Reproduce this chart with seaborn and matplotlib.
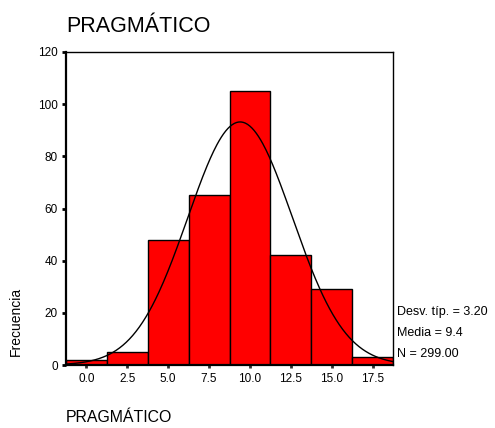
import numpy as np
import pandas as pd
import seaborn as sns
import matplotlib
matplotlib.use("Agg")
import matplotlib.pyplot as plt

# bin centres and counts
bin_centres = [0.0, 2.5, 5.0, 7.5, 10.0, 12.5, 15.0, 17.5]
counts = [2, 5, 48, 65, 105, 42, 29, 3]
x_ticks = [0.0, 2.5, 5.0, 7.5, 10.0, 12.5, 15.0, 17.5]
y_ticks = [0, 20, 40, 60, 80, 100, 120]

# summary stats printed on the chart
std_dev = 3.20
mean = 9.4
n_total = 299.00
bin_width = 2.5

sns.set_theme(style="white")
plt.rcParams['font.family'] = ['Liberation Sans', 'DejaVu Sans']
plt.rcParams['text.color'] = 'black'
plt.rcParams['xtick.color'] = 'black'
plt.rcParams['ytick.color'] = 'black'

df = pd.DataFrame({"PRAGMATICO": bin_centres, "n": counts})

fig = plt.figure(figsize=(4.95, 4.28), dpi=100)
ax = fig.add_axes([66 / 495, 1 - 365 / 428, 327 / 495, 313 / 428])

sns.histplot(data=df, x="PRAGMATICO", weights="n", binwidth=bin_width,
             binrange=(-1.25, 18.75), color="#ff0000", edgecolor="black",
             linewidth=1.0, alpha=1.0, ax=ax)

# fitted normal curve from the printed mean / sd
xs = np.linspace(-1.25, 18.75, 300)
ys = n_total * bin_width / (std_dev * np.sqrt(2 * np.pi)) * np.exp(-0.5 * ((xs - mean) / std_dev) ** 2)
sns.lineplot(x=xs, y=ys, color="black", linewidth=1.0, ax=ax)

ax.set_xlim(-1.25, 18.75)
ax.set_ylim(0, 120)
ax.set_xticks(x_ticks)
ax.set_xticklabels([f"{v:.1f}" for v in x_ticks], fontsize=8.5)
ax.set_yticks(y_ticks)
ax.set_yticklabels([str(v) for v in y_ticks], fontsize=8.5)
ax.tick_params(axis="y", left=True, length=3, width=2, pad=3)
ax.tick_params(axis="x", bottom=True, length=2, width=2, color="#333333", pad=4)
ax.set_xlabel("")
ax.set_ylabel("")

for side in ["top", "right"]:
    ax.spines[side].set_linewidth(1.0)
    ax.spines[side].set_color("black")
for side in ["left", "bottom"]:
    ax.spines[side].set_linewidth(1.6)
    ax.spines[side].set_color("black")

fig.text(66 / 495, 1 - 31.5 / 428, "PRAGMÁTICO", fontsize=15.5, ha="left", va="baseline")
fig.text(66 / 495, 1 - 422.5 / 428, "PRAGMÁTICO", fontsize=11.4, ha="left", va="baseline")
fig.text(16 / 495, 1 - 321 / 428, "Frecuencia", fontsize=10, rotation=90, ha="center", va="center")

fig.text(397 / 495, 1 - 312 / 428, f"Desv. típ. = {std_dev:.2f}", fontsize=9, ha="left", va="center")
fig.text(397 / 495, 1 - 333 / 428, f"Media = {mean:.1f}", fontsize=9, ha="left", va="center")
fig.text(397 / 495, 1 - 354 / 428, f"N = {n_total:.2f}", fontsize=9, ha="left", va="center")

fig.savefig("out.png", dpi=100)
plt.close(fig)
